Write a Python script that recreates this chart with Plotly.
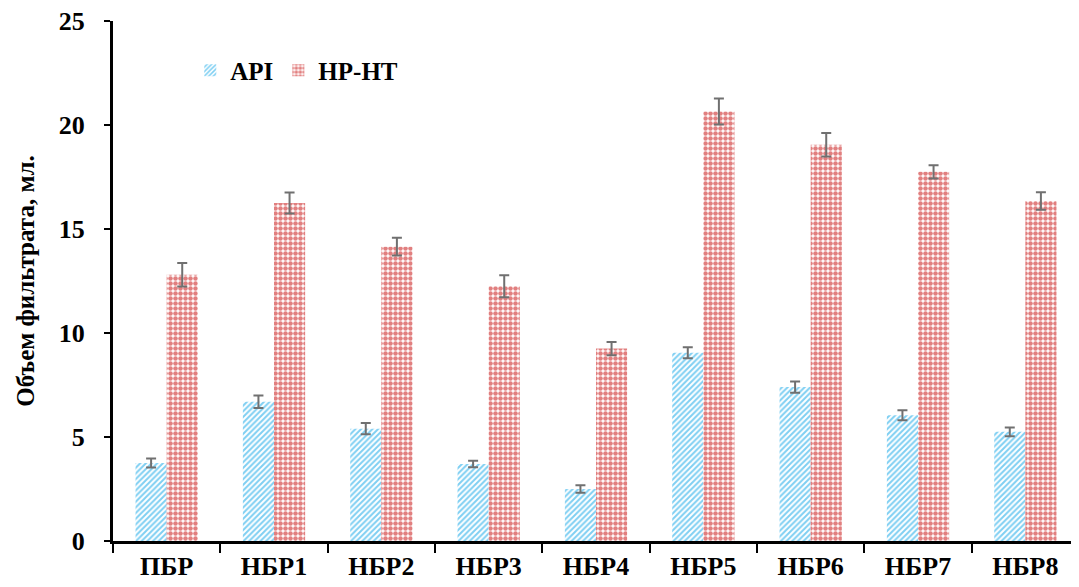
import plotly.graph_objects as go

categories = ["ПБР", "НБР1", "НБР2", "НБР3", "НБР4", "НБР5", "НБР6", "НБР7", "НБР8"]
api_values = [3.75, 6.7, 5.4, 3.7, 2.5, 9.05, 7.4, 6.05, 5.25]
api_errors = [0.22, 0.3, 0.27, 0.16, 0.18, 0.26, 0.27, 0.24, 0.21]
hpht_values = [12.8, 16.25, 14.15, 12.25, 9.25, 20.65, 19.05, 17.75, 16.35]
hpht_errors = [0.56, 0.5, 0.43, 0.53, 0.32, 0.63, 0.56, 0.32, 0.42]
y_ticks = [0, 5, 10, 15, 20, 25]

FONT = "Times New Roman, Liberation Serif, serif"

fig = go.Figure()
fig.add_trace(go.Bar(
    name="API", x=categories, y=api_values,
    error_y=dict(type="data", array=api_errors, color="#707070", thickness=2, width=5),
    marker=dict(color="white", line=dict(width=0),
                pattern=dict(shape="/", fgcolor="#00A0E6", bgcolor="white", size=4, solidity=0.5)),
))
fig.add_trace(go.Bar(
    name="HP-HT", x=categories, y=hpht_values,
    error_y=dict(type="data", array=hpht_errors, color="#707070", thickness=2, width=5),
    marker=dict(color="white", line=dict(width=0),
                pattern=dict(shape=".", fgcolor="#C40000", bgcolor="white", size=5, solidity=0.65)),
))

fig.update_layout(
    width=1071, height=579,
    margin=dict(l=105, r=0, t=13, b=46),
    paper_bgcolor="white", plot_bgcolor="white",
    barmode="group", bargap=0.42, bargroupgap=0,
    font=dict(family=FONT, size=26, color="black"),
    legend=dict(orientation="h", x=0.08, y=0.905, xanchor="left", yanchor="middle",
                font=dict(family=FONT, size=25, color="black", weight="bold"),
                bgcolor="rgba(0,0,0,0)", itemwidth=30),
    showlegend=True,
)
fig.update_xaxes(
    showline=True, linecolor="black", linewidth=3,
    ticks="outside", tickson="boundaries", ticklen=9, tickwidth=2, tickcolor="black",
    tickfont=dict(family=FONT, size=26, color="black", weight="bold"),
    showgrid=False, zeroline=False,
)
fig.update_yaxes(
    range=[0, 25], tickvals=y_ticks,
    showline=True, linecolor="black", linewidth=3,
    ticks="outside", ticklen=6, tickwidth=2, tickcolor="black",
    ticklabelstandoff=14, ticklabeloverflow="allow",
    tickfont=dict(family=FONT, size=26, color="black", weight="bold"),
    showgrid=False, zeroline=False,
    title=dict(text="Объем фильтрата, мл.", font=dict(family=FONT, size=25, color="black", weight="bold"), standoff=18),
)

fig.write_html("out.html")
